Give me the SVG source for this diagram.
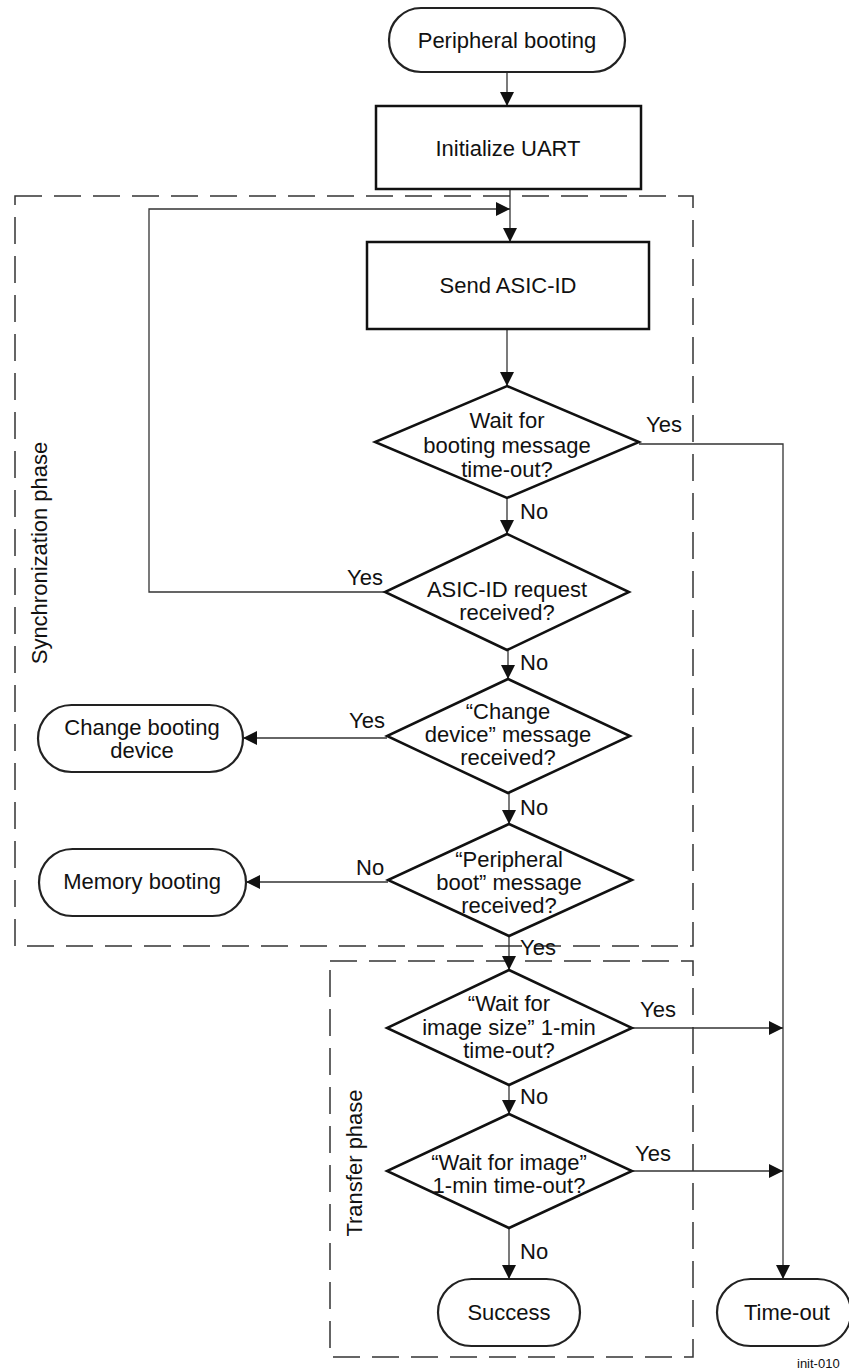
<svg xmlns="http://www.w3.org/2000/svg" width="849" height="1372" viewBox="0 0 849 1372">
<style>
text{font-family:"Liberation Sans",Arial,sans-serif;font-size:22px;fill:#111}
.c{text-anchor:middle}
.shape{fill:#fff;stroke:#111;stroke-width:2.5}
.term{fill:#fff;stroke:#222;stroke-width:2.2}
.line{fill:none;stroke:#333;stroke-width:1.3}
.dash{fill:none;stroke:#333;stroke-width:1.5;stroke-dasharray:27 12}
</style>
<defs>
<marker id="arr" markerUnits="userSpaceOnUse" markerWidth="15" markerHeight="14" refX="14" refY="7" orient="auto">
<path d="M0,0 L14,7 L0,14 z" fill="#111"/>
</marker>
</defs>
<rect width="849" height="1372" fill="#fff"/>
<g id="phases">
<rect class="dash" x="15" y="196" width="678" height="750"/>
<rect class="dash" x="330" y="961" width="363" height="396"/>
<text transform="translate(47,553) rotate(-90)" class="c">Synchronization phase</text>
<text transform="translate(362,1163) rotate(-90)" class="c">Transfer phase</text>
</g>
<g id="connectors">
<line class="line" x1="507" y1="72" x2="507" y2="106" marker-end="url(#arr)"/>
<line class="line" x1="510" y1="189" x2="510" y2="242" marker-end="url(#arr)"/>
<polyline class="line" points="385,592 149,592 149,209 510,209" marker-end="url(#arr)"/>
<line class="line" x1="507" y1="329" x2="507" y2="386" marker-end="url(#arr)"/>
<line class="line" x1="507" y1="498" x2="507" y2="534" marker-end="url(#arr)"/>
<polyline class="line" points="639,444 783,444 783,1279" marker-end="url(#arr)"/>
<line class="line" x1="508" y1="650" x2="508" y2="679" marker-end="url(#arr)"/>
<line class="line" x1="387" y1="738" x2="243" y2="738" marker-end="url(#arr)"/>
<line class="line" x1="509" y1="793" x2="509" y2="824" marker-end="url(#arr)"/>
<line class="line" x1="388" y1="882" x2="246" y2="882" marker-end="url(#arr)"/>
<line class="line" x1="509" y1="936" x2="509" y2="970" marker-end="url(#arr)"/>
<line class="line" x1="632" y1="1028" x2="783" y2="1028" marker-end="url(#arr)"/>
<line class="line" x1="509" y1="1085" x2="509" y2="1114" marker-end="url(#arr)"/>
<line class="line" x1="632" y1="1171" x2="783" y2="1171" marker-end="url(#arr)"/>
<line class="line" x1="509" y1="1228" x2="509" y2="1279" marker-end="url(#arr)"/>
<text x="646" y="432">Yes</text>
<text x="520" y="519">No</text>
<text x="347" y="585">Yes</text>
<text x="520" y="670">No</text>
<text x="349" y="728">Yes</text>
<text x="520" y="815">No</text>
<text x="356" y="875">No</text>
<text x="520" y="955">Yes</text>
<text x="640" y="1017">Yes</text>
<text x="520" y="1104">No</text>
<text x="635" y="1161">Yes</text>
<text x="520" y="1259">No</text>
</g>
<g id="start">
<rect class="term" x="389" y="8" width="236" height="64" rx="32"/>
<text x="507" y="48" class="c">Peripheral booting</text>
</g>
<g id="init-uart">
<rect class="shape" x="376" y="106" width="265" height="83"/>
<text x="508" y="156" class="c">Initialize UART</text>
</g>
<g id="send-asic-id">
<rect class="shape" x="367" y="242" width="282" height="87"/>
<text x="508" y="293" class="c">Send ASIC-ID</text>
</g>
<g id="d-wait-boot">
<polygon class="shape" points="507,386 639,442 507,498 375,442"/>
<text class="c" x="507" y="428">Wait for</text>
<text class="c" x="507" y="453">booting message</text>
<text class="c" x="507" y="477">time-out?</text>
</g>
<g id="d-asic-req">
<polygon class="shape" points="507,534 629,592 507,650 385,592"/>
<text class="c" x="507" y="597">ASIC-ID request</text>
<text class="c" x="507" y="620">received?</text>
</g>
<g id="d-change-dev">
<polygon class="shape" points="508,679 630,736 508,793 387,736"/>
<text class="c" x="508" y="719">“Change</text>
<text class="c" x="508" y="742">device” message</text>
<text class="c" x="508" y="765">received?</text>
</g>
<g id="change-booting">
<rect class="term" x="38" y="705" width="205" height="67" rx="33.5"/>
<text class="c" x="142" y="735">Change booting</text>
<text class="c" x="142" y="758">device</text>
</g>
<g id="d-periph-boot">
<polygon class="shape" points="509,824 632,880 509,936 388,880"/>
<text class="c" x="509" y="867">“Peripheral</text>
<text class="c" x="509" y="890">boot” message</text>
<text class="c" x="509" y="913">received?</text>
</g>
<g id="memory-booting">
<rect class="term" x="39" y="849" width="207" height="67" rx="33.5"/>
<text class="c" x="142" y="889">Memory booting</text>
</g>
<g id="d-img-size">
<polygon class="shape" points="509,970 632,1028 509,1085 387,1028"/>
<text class="c" x="509" y="1011">“Wait for</text>
<text class="c" x="509" y="1035">image size” 1-min</text>
<text class="c" x="509" y="1058">time-out?</text>
</g>
<g id="d-img">
<polygon class="shape" points="509,1114 632,1171 509,1228 387,1171"/>
<text class="c" x="509" y="1170">“Wait for image”</text>
<text class="c" x="509" y="1193">1-min time-out?</text>
</g>
<g id="success">
<rect class="term" x="438" y="1279" width="142" height="67" rx="33.5"/>
<text class="c" x="509" y="1320">Success</text>
</g>
<g id="timeout">
<rect class="term" x="717" y="1279" width="134" height="67" rx="33.5"/>
<text class="c" x="787" y="1320">Time-out</text>
</g>
<text x="797" y="1368" style="font-size:13px">init-010</text>
</svg>
